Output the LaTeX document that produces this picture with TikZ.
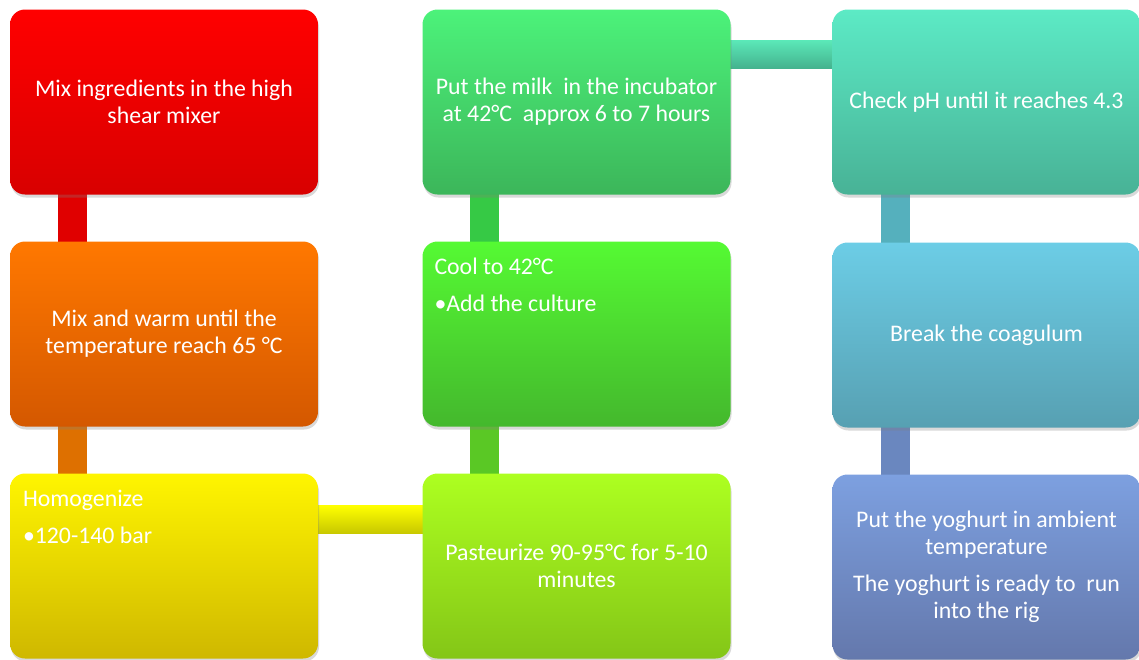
\documentclass[tikz,border=0pt]{standalone}
\usepackage{fontspec}
\setmainfont{Carlito}
\usetikzlibrary{shadows,backgrounds}

\begin{document}
\begin{tikzpicture}[x=1pt,y=-1pt]
  \tikzstyle{stepbox}=[rounded corners=15pt,minimum width=308pt,minimum height=185pt,inner sep=0pt,
    text=white,align=center,font=\fontsize{23.8}{27}\selectfont,
    drop shadow={opacity=0.3,shadow xshift=1pt,shadow yshift=-3pt}]
  \tikzstyle{steptext}=[inner sep=0pt,text=white,align=left,font=\fontsize{23.8}{27}\selectfont,anchor=north west]
  \tikzstyle{bar}=[draw=none]
  \useasboundingbox (0,0) rectangle (1139,659);

    \node[stepbox,top color={rgb,255:red,255;green,0;blue,0},bottom color={rgb,255:red,216;green,0;blue,0}] (mix) at (164,102) {Mix ingredients in the high\\shear mixer};
    \node[stepbox,top color={rgb,255:red,255;green,120;blue,0},bottom color={rgb,255:red,212;green,88;blue,0}] (warm) at (164,334) {Mix and warm until the\\temperature reach 65 °C};
    \node[stepbox,top color={rgb,255:red,255;green,245;blue,0},bottom color={rgb,255:red,207;green,184;blue,0}] (homog) at (164,566) {};
    \node[stepbox,top color={rgb,255:red,173;green,255;blue,32},bottom color={rgb,255:red,132;green,198;blue,23}] (pasteur) at (576.5,566) {Pasteurize 90-95°C for 5-10\\minutes};
    \node[stepbox,top color={rgb,255:red,85;green,250;blue,51},bottom color={rgb,255:red,68;green,184;blue,45}] (cool) at (576.5,334) {};
    \node[stepbox,top color={rgb,255:red,76;green,242;blue,122},bottom color={rgb,255:red,60;green,182;blue,90}] (incub) at (576.5,102) {Put the milk\ \ in the incubator\\at 42°C\ \ approx 6 to 7 hours};
    \node[stepbox,top color={rgb,255:red,92;green,234;blue,197},bottom color={rgb,255:red,72;green,178;blue,150}] (checkph) at (986.5,102) {Check pH until it reaches 4.3};
    \node[stepbox,top color={rgb,255:red,108;green,205;blue,230},bottom color={rgb,255:red,87;green,160;blue,178}] (coag) at (986.5,335) {Break the coagulum};
    \node[stepbox,top color={rgb,255:red,125;green,160;blue,224},bottom color={rgb,255:red,100;green,120;blue,172}] (ambient) at (986.5,567) {Put the yoghurt in ambient\\temperature\\[10pt]The yoghurt is ready to\ \ run\\into the rig};

    \node[steptext] (homogtext) at ([shift={(13pt,-17pt)}]homog.north west) {Homogenize\\[10pt]•120-140 bar};
    \node[steptext] (cooltext) at ([shift={(12pt,-16pt)}]cool.north west) {Cool to 42°C\\[10pt]•Add the culture};

    \begin{pgfonlayer}{background}
    \path[bar,fill={rgb,255:red,224;green,0;blue,0}] ([xshift=48pt,yshift=5pt]mix.south west) rectangle ([xshift=77pt,yshift=-5pt]warm.north west);
    \path[bar,fill={rgb,255:red,222;green,112;blue,0}] ([xshift=48pt,yshift=5pt]warm.south west) rectangle ([xshift=77pt,yshift=-5pt]homog.north west);
    \path[bar,top color={rgb,255:red,255;green,255;blue,0},bottom color={rgb,255:red,200;green,200;blue,0}] ([shift={(-5pt,-32pt)}]homog.north east) rectangle ([shift={(5pt,-60pt)}]pasteur.north west);
    \path[bar,fill={rgb,255:red,90;green,200;blue,37}] ([xshift=48pt,yshift=5pt]cool.south west) rectangle ([xshift=77pt,yshift=-5pt]pasteur.north west);
    \path[bar,fill={rgb,255:red,54;green,201;blue,69}] ([xshift=48pt,yshift=5pt]incub.south west) rectangle ([xshift=77pt,yshift=-5pt]cool.north west);
    \path[bar,top color={rgb,255:red,91;green,232;blue,184},bottom color={rgb,255:red,68;green,178;blue,142}] ([shift={(-5pt,-31pt)}]incub.north east) rectangle ([shift={(5pt,-59pt)}]checkph.north west);
    \path[bar,fill={rgb,255:red,85;green,176;blue,189}] ([xshift=49pt,yshift=5pt]checkph.south west) rectangle ([xshift=78pt,yshift=-5pt]coag.north west);
    \path[bar,fill={rgb,255:red,106;green,135;blue,191}] ([xshift=49pt,yshift=5pt]coag.south west) rectangle ([xshift=78pt,yshift=-5pt]ambient.north west);
    \end{pgfonlayer}
\end{tikzpicture}
\end{document}
